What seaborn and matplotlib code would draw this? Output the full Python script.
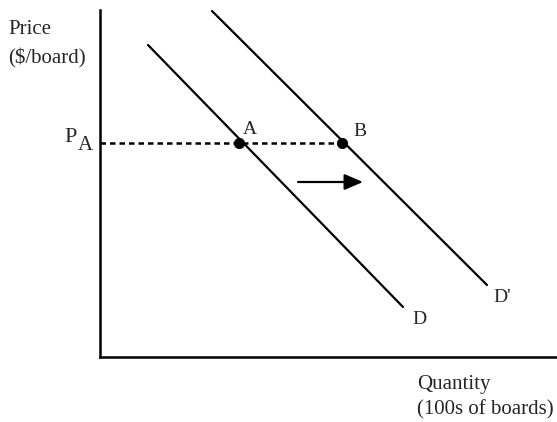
import matplotlib
matplotlib.use("Agg")
import matplotlib.pyplot as plt
import seaborn as sns
import pandas as pd

# demand curves (quantity, price) in arbitrary units
d_qty = [48, 303]
d_price = [312, 50]
d2_qty = [112, 387]
d2_price = [346, 72]

# equilibrium points at price P_A
pt_labels = ["A", "B"]
pt_qty = [139, 242]
pt_price = [214, 214]

# shift arrow
arrow_qty = [198, 263]
arrow_price = 175

sns.set_theme(style="white")
plt.rcParams['font.family'] = ['Liberation Serif', 'DejaVu Serif']

fig = plt.figure(figsize=(5.57, 4.22), dpi=100)
ax = fig.add_axes([100 / 557, 65 / 422, 457 / 557, 347 / 422])

curves = pd.DataFrame({
    "qty": d_qty + d2_qty,
    "price": d_price + d2_price,
    "curve": ["D", "D", "D'", "D'"],
})
sns.lineplot(data=curves, x="qty", y="price", units="curve", estimator=None,
             color="black", linewidth=1.6, ax=ax, legend=False)

# dashed line at P_A
ax.plot([0, pt_qty[1]], [pt_price[1], pt_price[1]], color="black",
        linewidth=1.8, linestyle=(0, (2.2, 1.6)))

sns.scatterplot(x=pt_qty, y=pt_price, color="black", s=55, ax=ax,
                edgecolor="black", zorder=5)

ax.annotate("", xy=(arrow_qty[1], arrow_price), xytext=(arrow_qty[0], arrow_price),
            arrowprops=dict(arrowstyle="-|>,head_length=0.7,head_width=0.3",
                            color="black", lw=1.6, mutation_scale=16,
                            shrinkA=0, shrinkB=0))

ax.set_xlim(0, 457)
ax.set_ylim(0, 347)
ax.set_xticks([])
ax.set_yticks([])
ax.set_xlabel("")
ax.set_ylabel("")
for side in ["top", "right"]:
    ax.spines[side].set_visible(False)
for side in ["left", "bottom"]:
    ax.spines[side].set_color("black")
    ax.spines[side].set_linewidth(1.8)

fs = 15
ax.text(pt_qty[0] + 11, pt_price[0] + 14, pt_labels[0], fontsize=fs - 1, ha="center", va="center")
ax.text(pt_qty[1] + 18, pt_price[1] + 11, pt_labels[1], fontsize=fs - 1, ha="center", va="center")
ax.text(d_qty[1] + 16, d_price[1] - 13, "D", fontsize=fs - 1, ha="center", va="center")
ax.text(d2_qty[1] + 15, d2_price[1] - 13, "D'", fontsize=fs - 1, ha="center", va="center")

# P_A label
ax.text(-29, pt_price[0] + 6, "P", fontsize=fs + 1, ha="center", va="center", clip_on=False)
ax.text(-14.5, pt_price[0] - 3, "A", fontsize=fs, ha="center", va="center", clip_on=False)

fig.text(8 / 557, 1 - 30 / 422, "Price", fontsize=fs, ha="left", va="center")
fig.text(8 / 557, 1 - 58 / 422, "($/board)", fontsize=fs, ha="left", va="center")
fig.text(417 / 557, 1 - 385 / 422, "Quantity", fontsize=fs, ha="left", va="center")
fig.text(417 / 557, 1 - 410 / 422, "(100s of boards)", fontsize=fs, ha="left", va="center")

fig.savefig("out.png", dpi=100)
